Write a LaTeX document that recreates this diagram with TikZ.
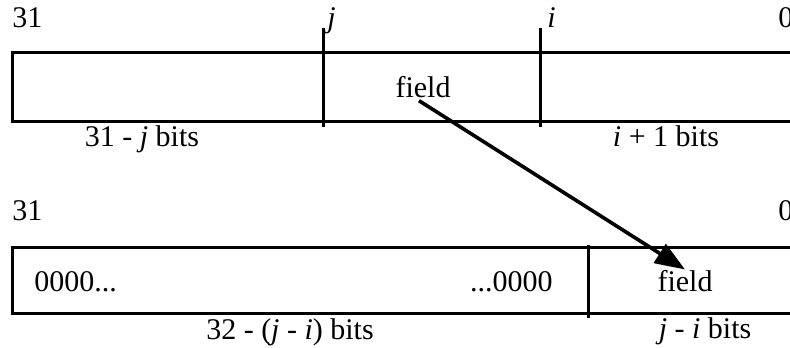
\documentclass[tikz,border=0pt]{standalone}
\usepackage{fontspec}
\setmainfont{Liberation Serif}
\usetikzlibrary{arrows.meta, positioning}

\begin{document}
\begin{tikzpicture}[x=0.5pt, y=-0.5pt]

    % --- Estilos ---
    \tikzset{
        reg/.style={draw=black, line width=1.5pt},
        lbl/.style={inner sep=0pt, font=\fontsize{15}{18}\selectfont},
        arrow/.style={line width=1.8pt, -{Triangle[length=15pt,width=11pt]}}
    }

    \useasboundingbox (0,0) rectangle (790,347);
    \clip (0,0) rectangle (790,347);

    % --- Registro original ---
    \draw [reg] (12,53) rectangle (830,122);
    \draw [reg] (323,28) -- (323,127);
    \draw [reg] (540,28) -- (540,127);

    \node (hiTop) [lbl, anchor=base west] at (12,28) {31};
    \node (jTop) [lbl, anchor=base west] at (327,28) {\textit{j}};
    \node (iTop) [lbl, anchor=base west] at (547,28) {\textit{i}};
    \node (loTop) [lbl, anchor=base west] at (778,28) {0};
    \node (fieldTop) [lbl, anchor=base] at (423,98) {field};
    \node (upperBits) [lbl, anchor=base] at (142,147) {31 - \textit{j} bits};
    \node (lowerBits) [lbl, anchor=base] at (666,147) {\textit{i} + 1 bits};

    % --- Registro resultado ---
    \draw [reg] (12,247) rectangle (830,313);
    \draw [reg] (588,245) -- (588,318);

    \node (hiBot) [lbl, anchor=base west] at (12,220) {31};
    \node (loBot) [lbl, anchor=base west] at (778,220) {0};
    \node (zerosL) [lbl, anchor=base west] at (34,291) {0000...};
    \node (zerosR) [lbl, anchor=base east] at (553,291) {...0000};
    \node (fieldBot) [lbl, anchor=base] at (685,291) {field};
    \node (padBits) [lbl, anchor=base] at (290,339) {32 - (\textit{j} - \textit{i}) bits};
    \node (fieldBits) [lbl, anchor=base] at (705,338) {\textit{j} - \textit{i} bits};

    % --- Conexion ---
    \draw [arrow] ([xshift=-2pt,yshift=-1pt]fieldTop.south) -- (fieldBot.north);

\end{tikzpicture}
\end{document}
